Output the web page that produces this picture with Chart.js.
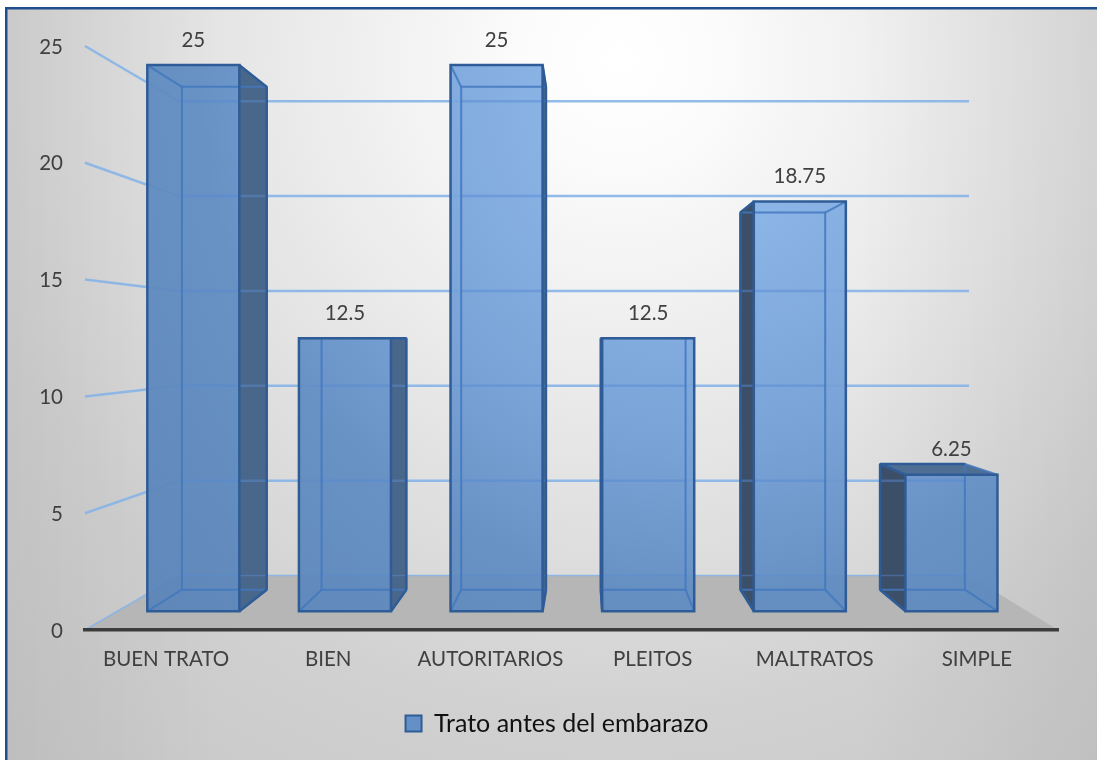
<!DOCTYPE html>
<html>
<head>
<meta charset="utf-8">
<title>Trato antes del embarazo</title>
<script src="https://cdn.jsdelivr.net/npm/chart.js@4"></script>
<style>
  html, body { margin: 0; padding: 0; background: #fff; }
  canvas { display: block; }
</style>
</head>
<body>
<canvas id="tratoChart" width="1097" height="760"></canvas>
<script>
const categories = ['BUEN TRATO', 'BIEN', 'AUTORITARIOS', 'PLEITOS', 'MALTRATOS', 'SIMPLE'];
const seriesName = 'Trato antes del embarazo';
const seriesValues = [25, 12.5, 25, 12.5, 18.75, 6.25];
const yTickLabels = [0, 5, 10, 15, 20, 25];

// Perspective of the fake 3D box: depth is a scale factor towards the vanishing point
const vanish = { x: 585, y: 340 };
const wallDepth = 0.812;
const barFrontDepth = 0.935;
const barBackDepth = 0.861;

function project(x, y, s) {
    return { x: vanish.x + (x - vanish.x) * s, y: vanish.y + (y - vanish.y) * s };
}

function polygon(ctx, pts, fill, stroke, width) {
    ctx.beginPath();
    pts.forEach((p, i) => i ? ctx.lineTo(p.x, p.y) : ctx.moveTo(p.x, p.y));
    ctx.closePath();
    if (fill) { ctx.fillStyle = fill; ctx.fill(); }
    if (stroke) { ctx.strokeStyle = stroke; ctx.lineWidth = width; ctx.stroke(); }
}

function line(ctx, a, b, color, width) {
    ctx.beginPath();
    ctx.moveTo(a.x, a.y);
    ctx.lineTo(b.x, b.y);
    ctx.strokeStyle = color;
    ctx.lineWidth = width;
    ctx.stroke();
}

function drawGridLines(chart, color) {
    const ctx = chart.ctx;
    const { left, right } = chart.chartArea;
    const yScale = chart.scales.y;
    yScale.ticks.forEach(tick => {
        const y = yScale.getPixelForValue(tick.value);
        const back = project(left, y, wallDepth);
        const end = project(right, y, wallDepth);
        const w = tick.value === 0 ? 1.5 : 2.5;
        line(ctx, { x: left, y: y }, back, color, w);
        line(ctx, back, end, color, w);
    });
}

// Background, floor and wall lines go under the axes
function drawRoom(chart) {
    const ctx = chart.ctx;
    const { left, right, bottom } = chart.chartArea;

    const bg = ctx.createRadialGradient(620, 60, 0, 620, 60, 900);
    bg.addColorStop(0, '#ffffff');
    bg.addColorStop(0.1, '#fcfcfc');
    bg.addColorStop(0.4, '#e8e8e8');
    bg.addColorStop(0.75, '#d0d0d0');
    bg.addColorStop(1, '#c8c8c8');
    ctx.fillStyle = bg;
    ctx.fillRect(6, 8, chart.width - 6, chart.height - 8);
    // edges of the plate are a bit darker
    const edges = ctx.createLinearGradient(0, 0, chart.width, 0);
    edges.addColorStop(0, 'rgba(0,0,0,0.05)');
    edges.addColorStop(0.2, 'rgba(0,0,0,0)');
    edges.addColorStop(0.78, 'rgba(0,0,0,0)');
    edges.addColorStop(1, 'rgba(0,0,0,0.05)');
    ctx.fillStyle = edges;
    ctx.fillRect(6, 8, chart.width - 6, chart.height - 8);

    ctx.fillStyle = '#1f4e8c';
    ctx.fillRect(5, 7, chart.width - 5, 2.5);
    ctx.fillRect(5, 7, 2.5, chart.height - 7);

    const a = { x: left, y: bottom };
    const b = { x: right, y: bottom };
    polygon(ctx, [a, project(left, bottom, wallDepth), project(right, bottom, wallDepth), b], '#b6b6b6');

    drawGridLines(chart, 'rgba(135,180,232,0.9)');
}

function drawBar(chart, bar, value) {
    const ctx = chart.ctx;
    const l = bar.x - bar.width / 2;
    const r = bar.x + bar.width / 2;
    const ftl = project(l, bar.y, barFrontDepth), ftr = project(r, bar.y, barFrontDepth);
    const fbl = project(l, bar.base, barFrontDepth), fbr = project(r, bar.base, barFrontDepth);
    const btl = project(l, bar.y, barBackDepth), btr = project(r, bar.y, barBackDepth);
    const bbl = project(l, bar.base, barBackDepth), bbr = project(r, bar.base, barBackDepth);

    const dark = '#2f5c96';
    const mid = 'rgba(66,120,190,0.85)';

    // the side that sticks out of the front face is the shaded one
    const rightOut = btr.x > ftr.x;
    const leftOut = btl.x < ftl.x;
    if (rightOut) polygon(ctx, [ftr, btr, bbr, fbr], '#49678a');
    if (leftOut) polygon(ctx, [ftl, btl, bbl, fbl], '#3b4f69');
    if (btl.y < ftl.y) polygon(ctx, [ftl, btl, btr, ftr], '#4f6e94');

    const front = ctx.createRadialGradient(700, 100, 100, 700, 100, 800);
    front.addColorStop(0, 'rgba(135,178,232,0.94)');
    front.addColorStop(0.36, 'rgba(114,158,213,0.94)');
    front.addColorStop(0.57, 'rgba(96,140,194,0.94)');
    front.addColorStop(1, 'rgba(88,130,182,0.94)');
    polygon(ctx, [ftl, ftr, fbr, fbl], front);

    // wall lines stay faintly visible through the glass
    ctx.save();
    ctx.beginPath();
    [ftl, ftr, btr, bbr, fbr, fbl, bbl, btl].forEach((p, i) => i ? ctx.lineTo(p.x, p.y) : ctx.moveTo(p.x, p.y));
    ctx.closePath();
    ctx.clip();
    drawGridLines(chart, 'rgba(90,140,210,0.45)');
    ctx.restore();

    // back edges show through the glass
    polygon(ctx, [btl, btr, bbr, bbl], null, mid, 2);
    [[ftl, btl], [ftr, btr], [fbl, bbl], [fbr, bbr]].forEach(e => line(ctx, e[0], e[1], mid, 2));

    if (rightOut) {
        line(ctx, ftr, btr, dark, 2.5);
        line(ctx, btr, bbr, dark, 2.5);
        line(ctx, bbr, fbr, dark, 2.5);
    }
    if (leftOut) {
        line(ctx, ftl, btl, dark, 2.5);
        line(ctx, btl, bbl, dark, 2.5);
        line(ctx, bbl, fbl, dark, 2.5);
    }
    if (btl.y < ftl.y) line(ctx, btl, btr, dark, 2.5);
    polygon(ctx, [ftl, ftr, fbr, fbl], null, dark, 2.5);

    ctx.fillStyle = '#404040';
    ctx.font = '20.5px Lato';
    ctx.textAlign = 'center';
    ctx.textBaseline = 'middle';
    ctx.fillText(String(value), (ftl.x + ftr.x) / 2, ftl.y - 25);
}

const room3d = {
    id: 'room3d',
    afterLayout(chart) {
        // legend sits right of centre in the reference
        chart.legend.left += 56;
    },
    beforeDraw: drawRoom,
    beforeDatasetsDraw(chart) {
        chart.getDatasetMeta(0).data.forEach((bar, i) => drawBar(chart, bar, seriesValues[i]));
        return false;
    }
};

new Chart(document.getElementById('tratoChart').getContext('2d'), {
    type: 'bar',
    data: {
        labels: categories,
        datasets: [{
            label: seriesName,
            data: seriesValues,
            backgroundColor: '#6590c6',
            borderColor: '#2f5c96',
            borderWidth: 2,
            barPercentage: 1,
            categoryPercentage: 0.607
        }]
    },
    options: {
        responsive: false,
        animation: false,
        layout: { padding: { left: 0, top: 46, right: 39, bottom: 14 } },
        plugins: {
            tooltip: { enabled: false },
            legend: {
                position: 'bottom',
                labels: {
                    color: '#111111',
                    font: { family: 'Lato', size: 25 },
                    boxWidth: 16,
                    boxHeight: 16,
                    padding: 10
                }
            }
        },
        scales: {
            x: {
                grid: { display: false },
                border: { color: '#3c3c3c', width: 3.5 },
                ticks: { color: '#404040', font: { family: 'Lato', size: 20.5 }, padding: 9, maxRotation: 0 },
                afterFit(scale) { scale.height = 71; }
            },
            y: {
                min: 0,
                max: 25,
                grid: { display: false },
                border: { display: false },
                afterBuildTicks(scale) { scale.ticks = yTickLabels.map(v => ({ value: v })); },
                ticks: { color: '#404040', font: { family: 'Lato', size: 20.5 }, padding: 14, labelOffset: 1 },
                afterFit(scale) { scale.width = 85; }
            }
        }
    },
    plugins: [room3d]
});
</script>
</body>
</html>
